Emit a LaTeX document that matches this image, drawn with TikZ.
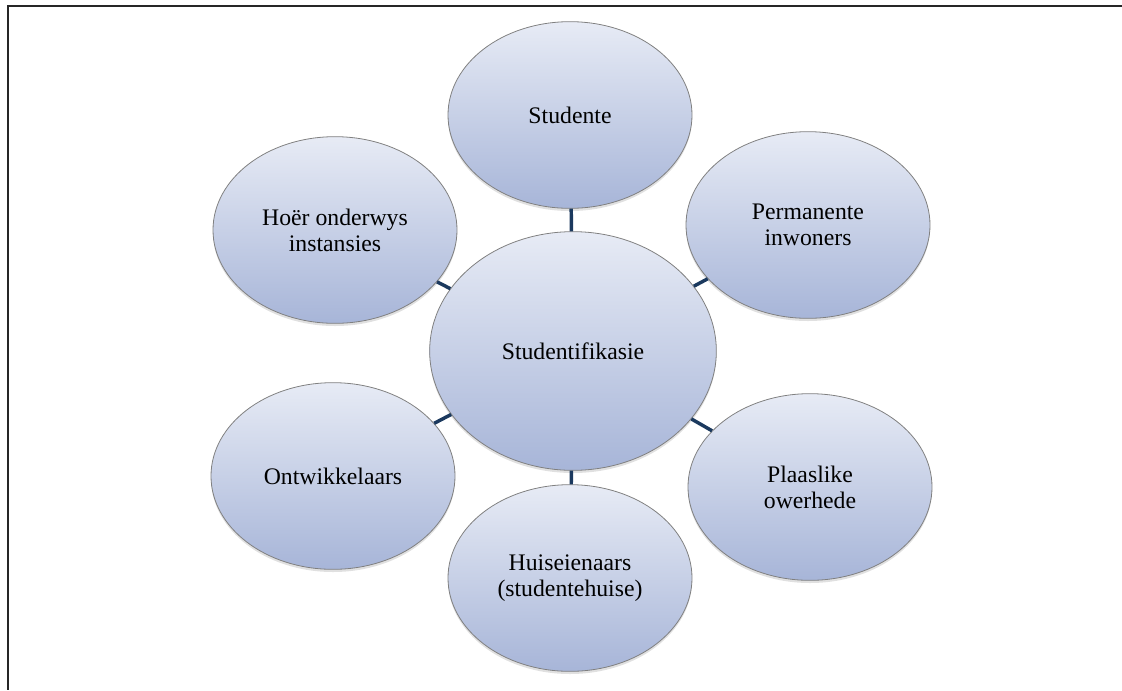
\documentclass[tikz,border=0pt]{standalone}
\usepackage{fontspec}
\setmainfont{Liberation Serif}
\newfontfamily\ovalfont{Liberation Serif}
\usetikzlibrary{shapes.geometric,shadows}
\definecolor{linkblue}{RGB}{27,57,94}
\definecolor{ovaltop}{RGB}{231,235,245}
\definecolor{ovalbot}{RGB}{167,181,216}

\begin{document}
\begin{tikzpicture}[x=0.75pt, y=-0.75pt,
  oval/.style={ellipse, draw=black!50, line width=0.6pt, top color=ovaltop, bottom color=ovalbot,
    minimum width=183pt, minimum height=140pt, inner sep=0pt, align=center,
    font=\ovalfont\fontsize{17.8}{19.5}\selectfont,
    drop shadow={shadow xshift=0pt, shadow yshift=-2pt, fill=black!20, opacity=0.6}},
  hub/.style={oval, minimum width=215pt, minimum height=179pt},
  link/.style={draw=linkblue, line width=2.6pt}]
 \useasboundingbox (0,0) rectangle (1122,690);
 \draw[line width=1.1pt, black!85] (1122,6) -- (8,6) -- (8,690);

 \node[hub]  (c) at (573, 351) {Studentifikasie};
 \node[oval] (s) at (570, 115) {Studente};
 \node[oval] (p) at (808, 225) {Permanente\\inwoners};
 \node[oval] (l) at (810, 487) {Plaaslike\\owerhede};
 \node[oval] (u) at (570, 578) {Huiseienaars\\(studentehuise)};
 \node[oval] (o) at (333, 476) {Ontwikkelaars};
 \node[oval] (h) at (335, 230) {Hoër onderwys\\instansies};

 \path[link] (c) edge (s);
 \path[link] (c) edge (p);
 \path[link] (c) edge (l);
 \path[link] (c) edge (u);
 \path[link] (c) edge (o);
 \path[link] (c) edge (h);
\end{tikzpicture}
\end{document}
